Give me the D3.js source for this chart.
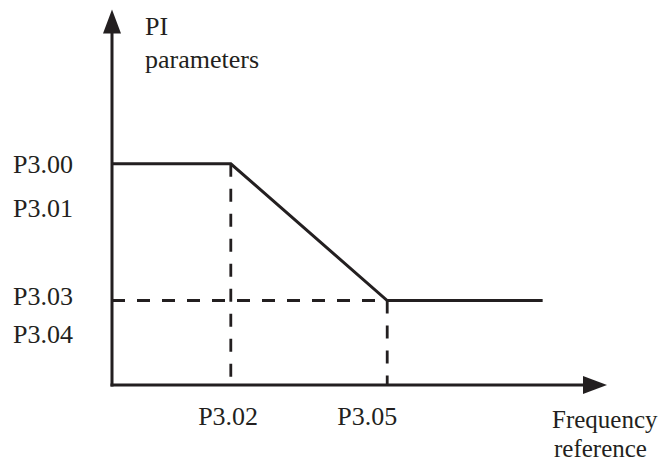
<!DOCTYPE html>
<html>
<head>
<meta charset="utf-8">
<script src="https://cdn.jsdelivr.net/npm/d3@7"></script>
<style>
  html, body { margin: 0; padding: 0; background: #fff; }
  svg { display: block; }
  text { font-family: "Liberation Serif", "Times New Roman", Times, serif; font-size: 26px; fill: #231f20; }
  text.xtitle { font-size: 25px; }
</style>
</head>
<body>
<script>
// ---- data (abstract units, 0..100 on each axis) ----
const curveX = [0, 24, 55.6, 87];
const curveY = [58.9, 58.9, 22.5, 22.5];
const yTickLabels = ["P3.00", "P3.01", "P3.03", "P3.04"];
const yTickValues = [58.6, 46.9, 23.4, 13.4];
const xTickLabels = ["P3.02", "P3.05"];
const xTickValues = [24, 55.6];
const xTickLabelValues = [17.4, 45.5];
const yAxisTitle = ["PI", "parameters"];
const xAxisTitle = ["Frequency", "reference"];

const W = 666, H = 462;
const ink = "#231f20";
const x = d3.scaleLinear().domain([0, 100]).range([112, 607]);
const y = d3.scaleLinear().domain([0, 100]).range([385, 9.5]);

const svg = d3.select("body").append("svg").attr("width", W).attr("height", H);

// dashed guide lines
const dash = "13,12";
svg.append("line")
  .attr("x1", x(xTickValues[0])).attr("x2", x(xTickValues[0]))
  .attr("y1", y(curveY[1])).attr("y2", y(0))
  .attr("stroke", ink).attr("stroke-width", 2.8).attr("stroke-dasharray", dash);
svg.append("line")
  .attr("x1", x(xTickValues[1])).attr("x2", x(xTickValues[1]))
  .attr("y1", y(curveY[2])).attr("y2", y(0))
  .attr("stroke", ink).attr("stroke-width", 2.8).attr("stroke-dasharray", dash);
svg.append("line")
  .attr("x1", x(0)).attr("x2", x(curveX[2]))
  .attr("y1", y(curveY[2])).attr("y2", y(curveY[2]))
  .attr("stroke", ink).attr("stroke-width", 2.8).attr("stroke-dasharray", dash);

// curve
const pts = curveX.map((v, i) => [x(v), y(curveY[i])]);
svg.append("path")
  .attr("d", d3.line()(pts))
  .attr("fill", "none").attr("stroke", ink).attr("stroke-width", 3)
  .attr("stroke-linejoin", "miter");

// axes
const arrowLen = 24, arrowHalf = 9;
svg.append("line")
  .attr("x1", x(0)).attr("x2", x(0))
  .attr("y1", y(0) + 1.5).attr("y2", y(100) + arrowLen - 1)
  .attr("stroke", ink).attr("stroke-width", 3);
svg.append("path")
  .attr("d", `M${x(0)},${y(100)} L${x(0) - arrowHalf},${y(100) + arrowLen} L${x(0) + arrowHalf},${y(100) + arrowLen} Z`)
  .attr("fill", ink);
svg.append("line")
  .attr("x1", x(0) - 1.5).attr("x2", x(100) - arrowLen + 1)
  .attr("y1", y(0)).attr("y2", y(0))
  .attr("stroke", ink).attr("stroke-width", 3);
svg.append("path")
  .attr("d", `M${x(100)},${y(0)} L${x(100) - arrowLen},${y(0) - arrowHalf} L${x(100) - arrowLen},${y(0) + arrowHalf} Z`)
  .attr("fill", ink);

// y tick labels
svg.selectAll("text.ylab").data(yTickLabels).enter().append("text")
  .attr("class", "ylab")
  .attr("x", 13)
  .attr("y", (d, i) => y(yTickValues[i]))
  .attr("dy", "0.32em")
  .text(d => d);

// x tick labels
svg.selectAll("text.xlab").data(xTickLabels).enter().append("text")
  .attr("class", "xlab")
  .attr("x", (d, i) => x(xTickLabelValues[i]))
  .attr("y", 425)
  .text(d => d);

// axis titles
svg.selectAll("text.ytitle").data(yAxisTitle).enter().append("text")
  .attr("class", "ytitle")
  .attr("x", 145)
  .attr("y", (d, i) => 35 + i * 33)
  .text(d => d);
svg.selectAll("text.xtitle").data(xAxisTitle).enter().append("text")
  .attr("class", "xtitle")
  .attr("x", (d, i) => i === 0 ? 552 : 554)
  .attr("y", (d, i) => 428 + i * 28.5)
  .text(d => d);
</script>
</body>
</html>
